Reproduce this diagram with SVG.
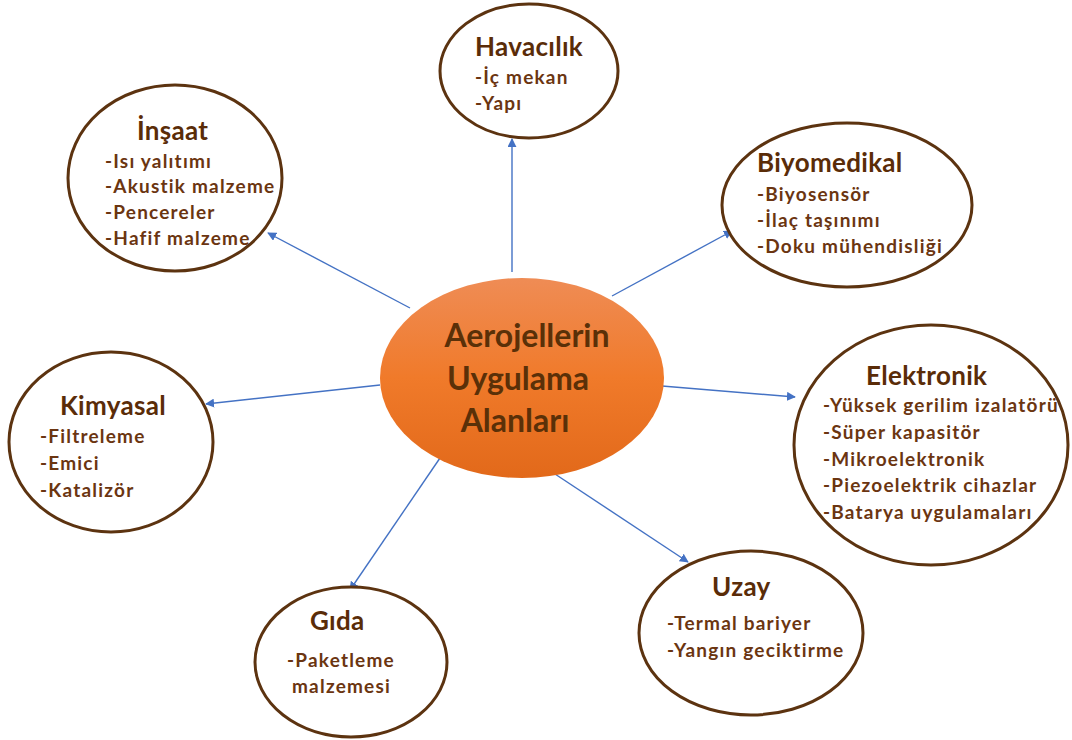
<svg xmlns="http://www.w3.org/2000/svg" width="1072" height="740" viewBox="0 0 1072 740">
<defs>
<linearGradient id="og" x1="0" y1="0" x2="0" y2="1">
<stop offset="0" stop-color="#ef8c55"/>
<stop offset="0.5" stop-color="#f07a2a"/>
<stop offset="1" stop-color="#e2691a"/>
</linearGradient>
<marker id="ah" viewBox="0 0 10 10" refX="9" refY="5" markerWidth="9" markerHeight="9" markerUnits="userSpaceOnUse" orient="auto">
<path d="M0,0 L10,5 L0,10 z" fill="#4472c4"/>
</marker>
</defs>
<style>
.bub{fill:#fff;stroke:#5c3310;stroke-width:3}
.t{font-family:Lato,"Open Sans",sans-serif;font-weight:bold;font-size:26px;letter-spacing:0.3px;fill:#5a2c08}
.i{font-family:Lato,"Open Sans",sans-serif;font-weight:bold;font-size:19px;letter-spacing:1.2px;fill:#6b3511}
.c{font-family:Lato,"Open Sans",sans-serif;font-weight:bold;font-size:32px;fill:#5a3008;text-anchor:middle}
.ln{stroke:#4472c4;stroke-width:1.4;fill:none;marker-end:url(#ah)}
</style>
<rect width="1072" height="740" fill="#fff"/>
<g id="connectors">
<line class="ln" x1="512" y1="272" x2="512" y2="139"/>
<line class="ln" x1="410" y1="308" x2="268" y2="233"/>
<line class="ln" x1="612" y1="296" x2="732" y2="231"/>
<line class="ln" x1="662" y1="386" x2="795" y2="397"/>
<line class="ln" x1="380" y1="385" x2="206" y2="404"/>
<line class="ln" x1="440" y1="458" x2="350" y2="590"/>
<line class="ln" x1="555" y1="474" x2="688" y2="562"/>
</g>
<g id="center">
<ellipse cx="522" cy="378" rx="142" ry="100" fill="url(#og)"/>
<text class="c" x="527" y="347">Aerojellerin</text>
<text class="c" x="518" y="390">Uygulama</text>
<text class="c" x="515" y="432">Alanları</text>
</g>
<g id="havacilik">
<ellipse class="bub" cx="529" cy="71" rx="89" ry="67"/>
<text class="t" x="475" y="56">Havacılık</text>
<text class="i" x="475" y="84">-İç mekan</text>
<text class="i" x="475" y="110">-Yapı</text>
</g>
<g id="insaat">
<ellipse class="bub" cx="175" cy="178" rx="107" ry="93"/>
<text class="t" x="137" y="140">İnşaat</text>
<text class="i" x="105" y="168">-Isı yalıtımı</text>
<text class="i" x="105" y="193">-Akustik malzeme</text>
<text class="i" x="105" y="219">-Pencereler</text>
<text class="i" x="105" y="245">-Hafif malzeme</text>
</g>
<g id="biyomedikal">
<ellipse class="bub" cx="847" cy="205" rx="125" ry="82"/>
<text class="t" x="757" y="172">Biyomedikal</text>
<text class="i" x="757" y="201">-Biyosensör</text>
<text class="i" x="757" y="227">-İlaç taşınımı</text>
<text class="i" x="757" y="253">-Doku mühendisliği</text>
</g>
<g id="elektronik">
<ellipse class="bub" cx="931" cy="445" rx="137" ry="120"/>
<text class="t" x="866" y="385">Elektronik</text>
<text class="i" x="823" y="412">-Yüksek gerilim izalatörü</text>
<text class="i" x="823" y="439">-Süper kapasitör</text>
<text class="i" x="823" y="466">-Mikroelektronik</text>
<text class="i" x="823" y="492">-Piezoelektrik cihazlar</text>
<text class="i" x="823" y="519">-Batarya uygulamaları</text>
</g>
<g id="kimyasal">
<ellipse class="bub" cx="111" cy="442" rx="102" ry="90"/>
<text class="t" x="60" y="415">Kimyasal</text>
<text class="i" x="40" y="443">-Filtreleme</text>
<text class="i" x="40" y="470">-Emici</text>
<text class="i" x="40" y="497">-Katalizör</text>
</g>
<g id="gida">
<ellipse class="bub" cx="351" cy="662" rx="96" ry="75"/>
<text class="t" x="310" y="630">Gıda</text>
<text class="i" x="287" y="667">-Paketleme</text>
<text class="i" x="292" y="693">malzemesi</text>
</g>
<g id="uzay">
<ellipse class="bub" cx="751" cy="633" rx="112" ry="82"/>
<text class="t" x="712" y="596">Uzay</text>
<text class="i" x="667" y="630">-Termal bariyer</text>
<text class="i" x="667" y="657">-Yangın geciktirme</text>
</g>
</svg>
